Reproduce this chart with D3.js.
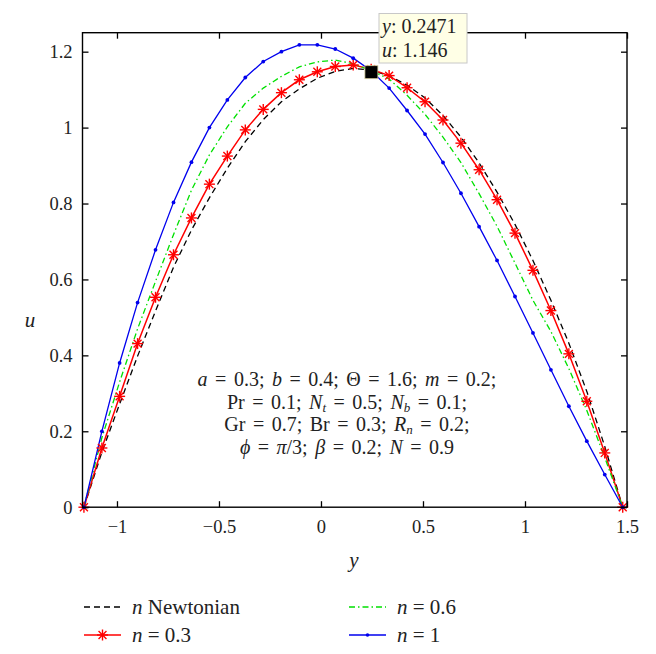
<!DOCTYPE html>
<html>
<head>
<meta charset="utf-8">
<script src="https://cdn.jsdelivr.net/npm/d3@7"></script>
<style>
  html, body { margin: 0; padding: 0; background: #fff; }
  svg { display: block; }
  svg text { font-family: "Liberation Serif", "DejaVu Serif", serif !important; fill: #222; }
</style>
</head>
<body>
<svg id="chart" width="656" height="654"></svg>
<script>
// ---------------- data ----------------
const yGrid = [-1.162, -1.074, -0.987, -0.899, -0.811, -0.723, -0.635, -0.547, -0.459, -0.371,
               -0.283, -0.194, -0.106, -0.018, 0.070, 0.158, 0.246, 0.334, 0.422, 0.510,
               0.598, 0.686, 0.775, 0.863, 0.951, 1.039, 1.127, 1.215, 1.303, 1.391, 1.479];
const uNewtonian = [0, 0.145, 0.272, 0.398, 0.517, 0.632, 0.730, 0.815, 0.893, 0.963,
                    1.021, 1.068, 1.102, 1.130, 1.148, 1.156, 1.152, 1.136, 1.112, 1.078,
                    1.032, 0.975, 0.907, 0.830, 0.745, 0.650, 0.545, 0.432, 0.305, 0.160, 0];
const uN03 = [0, 0.156, 0.292, 0.431, 0.553, 0.665, 0.762, 0.851, 0.925, 0.994,
              1.048, 1.092, 1.126, 1.147, 1.161, 1.165, 1.154, 1.137, 1.105, 1.068,
              1.020, 0.959, 0.889, 0.810, 0.722, 0.624, 0.518, 0.404, 0.279, 0.143, 0];
const uN06 = [0, 0.183, 0.330, 0.470, 0.595, 0.718, 0.835, 0.928, 1.002, 1.064,
              1.104, 1.135, 1.160, 1.173, 1.178, 1.168, 1.150, 1.128, 1.085, 1.035,
              0.975, 0.908, 0.826, 0.740, 0.643, 0.545, 0.463, 0.365, 0.255, 0.131, 0];
const uN1 = [0, 0.200, 0.380, 0.539, 0.678, 0.803, 0.909, 1.000, 1.073, 1.132,
             1.174, 1.200, 1.218, 1.218, 1.207, 1.183, 1.150, 1.104, 1.045, 0.983,
             0.908, 0.827, 0.739, 0.650, 0.555, 0.459, 0.362, 0.266, 0.174, 0.086, 0];

const xTicks = [-1, -0.5, 0, 0.5, 1, 1.5];
const xTickLabels = ["\u22121", "\u22120.5", "0", "0.5", "1", "1.5"];
const yTicks = [0, 0.2, 0.4, 0.6, 0.8, 1, 1.2];
const yTickLabels = ["0", "0.2", "0.4", "0.6", "0.8", "1", "1.2"];

const legendLabels = [["n", " Newtonian"], ["n", " = 0.3"], ["n", " = 0.6"], ["n", " = 1"]];
const tipY = 0.2471, tipU = 1.146;

const annotationLines = [
  [["a","i"],[" = 0.3; ",""],["b","i"],[" = 0.4; \u0398 = 1.6; ",""],["m","i"],[" = 0.2;",""]],
  [["Pr = 0.1; ",""],["N","i"],["t","s"],[" = 0.5; ",""],["N","i"],["b","s"],[" = 0.1;",""]],
  [["Gr = 0.7; Br = 0.3; ",""],["R","i"],["n","s"],[" = 0.2;",""]],
  [["\u03d5","i"],[" = ",""],["\u03c0","i"],["/3; ",""],["\u03b2","i"],[" = 0.2; ",""],["N","i"],[" = 0.9",""]]
];

// ---------------- layout ----------------
const FONT = '"Liberation Serif", "DejaVu Serif", serif';
const svg = d3.select("#chart");
const L = 82.5, R = 627, T = 32.7, B = 507.2;
const x = d3.scaleLinear().domain([-1.169, 1.5]).range([L, R]);
const y = d3.scaleLinear().domain([0, 1.25]).range([B, T]);

const series = [
  { u: uNewtonian, color: "#000", dash: "6,4", width: 1.3, marker: null },
  { u: uN03, color: "#ff0000", dash: null, width: 1.5, marker: "star" },
  { u: uN06, color: "#00e000", dash: "6,3,1.5,3", width: 1.3, marker: null },
  { u: uN1, color: "#0000ee", dash: null, width: 1.3, marker: "dot" }
];

const line = d3.line().x(d => x(d[0])).y(d => y(d[1]));

function drawStar(g, cx, cy, color) {
  const r = 5.5, d = r * 0.72;
  const segs = [[-r,0,r,0],[0,-r,0,r],[-d,-d,d,d],[-d,d,d,-d]];
  segs.forEach(s => g.append("line")
    .attr("x1", cx + s[0]).attr("y1", cy + s[1]).attr("x2", cx + s[2]).attr("y2", cy + s[3])
    .attr("stroke", color).attr("stroke-width", 1.4));
}

// curves
const plot = svg.append("g");
series.forEach(s => {
  const pts = yGrid.map((v, i) => [v, s.u[i]]);
  plot.append("path").datum(pts).attr("d", line)
    .attr("fill", "none").attr("stroke", s.color).attr("stroke-width", s.width)
    .attr("stroke-dasharray", s.dash);
});
series.forEach(s => {
  const pts = yGrid.map((v, i) => [v, s.u[i]]);
  if (s.marker === "star") pts.forEach(p => drawStar(plot, x(p[0]), y(p[1]), s.color));
  if (s.marker === "dot") pts.forEach(p => plot.append("circle")
    .attr("cx", x(p[0])).attr("cy", y(p[1])).attr("r", 1.9).attr("fill", s.color));
});

// axes box
const axisG = svg.append("g");
axisG.append("rect").attr("x", L).attr("y", T).attr("width", R - L).attr("height", B - T)
  .attr("fill", "none").attr("stroke", "#000").attr("stroke-width", 1.4);

const tk = 6;
const xAxisB = d3.axisBottom(x).tickValues(xTicks).tickSize(-tk).tickPadding(13)
  .tickFormat((d, i) => xTickLabels[i]);
const gx = axisG.append("g").attr("transform", `translate(0,${B})`).call(xAxisB);
const xAxisT = d3.axisTop(x).tickValues(xTicks).tickSize(-tk).tickFormat("");
const gxt = axisG.append("g").attr("transform", `translate(0,${T})`).call(xAxisT);
const yAxisL = d3.axisLeft(y).tickValues(yTicks).tickSize(-tk).tickPadding(10)
  .tickFormat((d, i) => yTickLabels[i]);
const gy = axisG.append("g").attr("transform", `translate(${L},0)`).call(yAxisL);
const yAxisR = d3.axisRight(y).tickValues(yTicks).tickSize(-tk).tickFormat("");
const gyr = axisG.append("g").attr("transform", `translate(${R},0)`).call(yAxisR);
[gx, gxt, gy, gyr].forEach(g => {
  g.attr("font-family", FONT);
  g.select(".domain").remove();
  g.selectAll(".tick line").attr("stroke", "#000").attr("stroke-width", 1.3);
  g.selectAll(".tick text").style("font-family", FONT)
    .style("font-size", "18.5px").attr("fill", "#222");
});

// axis labels
svg.append("text").attr("x", 30).attr("y", 327).attr("text-anchor", "middle")
  .style("font-size", "21px").attr("font-style", "italic").text("u");
svg.append("text").attr("x", 354).attr("y", 567).attr("text-anchor", "middle")
  .style("font-size", "21px").attr("font-style", "italic").text("y");

// annotation
annotationLines.forEach((segs, li) => {
  const t = svg.append("text").attr("x", 347).attr("y", 386 + li * 22.5)
    .attr("text-anchor", "middle").style("font-size", "20px").style("white-space", "pre")
    .style("word-spacing", "2.5px");
  let shifted = false;
  segs.forEach(s => {
    const ts = t.append("tspan").text(s[0]);
    if (s[1] === "i") ts.attr("font-style", "italic");
    if (s[1] === "s") {
      ts.attr("font-style", "italic").style("font-size", "13px").attr("dy", 3);
      shifted = true;
    } else if (shifted) {
      ts.attr("dy", -3); shifted = false;
    }
  });
});

// data tip
svg.append("rect").attr("x", x(tipY) - 6.5).attr("y", y(tipU) - 6.5)
  .attr("width", 13).attr("height", 13).attr("fill", "#000").attr("stroke", "#d8d0a0").attr("stroke-width", 0.8);
const tipG = svg.append("g");
tipG.append("rect").attr("x", 379).attr("y", 13.5).attr("width", 88).attr("height", 49.5)
  .attr("fill", "#ffffe6").attr("stroke", "#c8c8c8").attr("stroke-width", 1);
const t1 = tipG.append("text").attr("x", 382).attr("y", 33).style("font-size", "20px");
t1.append("tspan").attr("font-style", "italic").text("y");
t1.append("tspan").text(": " + tipY.toFixed(4));
const t2 = tipG.append("text").attr("x", 382).attr("y", 57).style("font-size", "20px");
t2.append("tspan").attr("font-style", "italic").text("u");
t2.append("tspan").text(": " + tipU.toFixed(3));

// legend
const legPos = [[84, 607], [84, 635], [349, 607], [349, 635]];
series.forEach((s, i) => {
  const [lx, ly] = legPos[i];
  const g = svg.append("g");
  g.append("line").attr("x1", lx).attr("x2", lx + 37).attr("y1", ly).attr("y2", ly)
    .attr("stroke", s.color).attr("stroke-width", s.width).attr("stroke-dasharray", s.dash);
  if (s.marker === "star") drawStar(g, lx + 18.5, ly, s.color);
  if (s.marker === "dot") g.append("circle").attr("cx", lx + 18.5).attr("cy", ly).attr("r", 1.8).attr("fill", s.color);
  const t = g.append("text").attr("x", lx + 48).attr("y", ly + 6.5).style("font-size", "21px").style("white-space", "pre");
  t.append("tspan").attr("font-style", "italic").text(legendLabels[i][0]);
  t.append("tspan").text(legendLabels[i][1]);
});
</script>
</body>
</html>
